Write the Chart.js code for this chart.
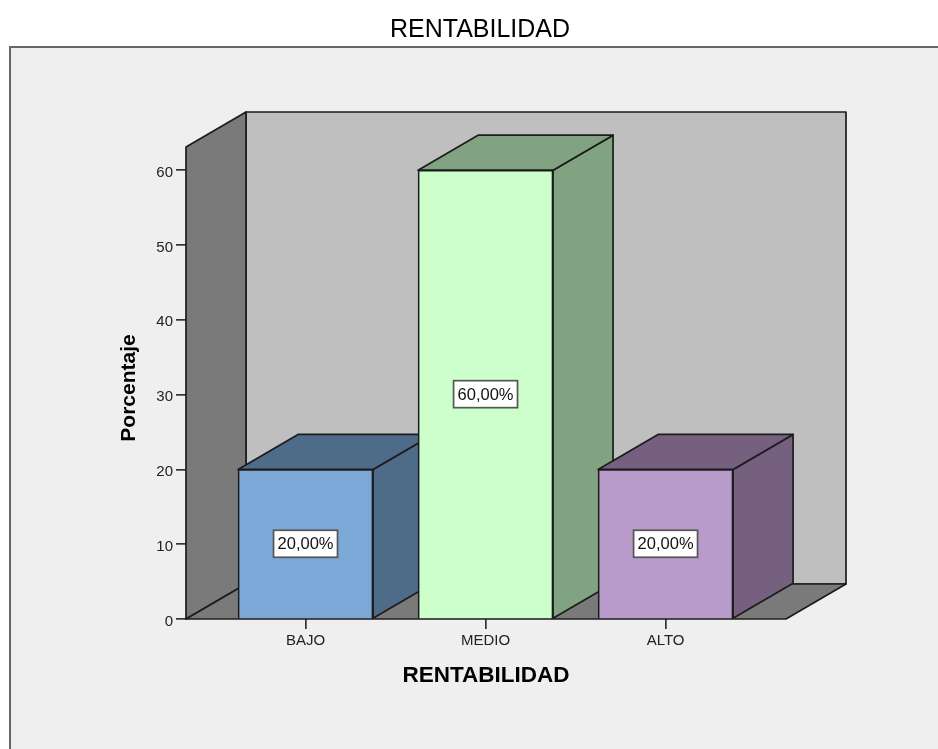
<!DOCTYPE html>
<html>
<head>
<meta charset="utf-8">
<title>RENTABILIDAD</title>
<script src="https://cdn.jsdelivr.net/npm/chart.js@4/dist/chart.umd.min.js"></script>
<style>
html, body { margin: 0; padding: 0; background: #fff; overflow: hidden; }
canvas { display: block; }
</style>
</head>
<body>
<canvas id="myChart" width="938" height="749"></canvas>
<script>
const categories = ["BAJO", "MEDIO", "ALTO"];
const porcentaje = [20, 60, 20];
const barLabels = ["20,00%", "60,00%", "20,00%"];
const frontColors = ["#7ba8d6", "#ccffcc", "#b89bca"];
const sideColors = ["#4e6b8a", "#82a382", "#766080"];
const yTicks = [0, 10, 20, 30, 40, 50, 60];

const FONT = "'Liberation Sans', Arial, sans-serif";
const DEPTH_X = 60, DEPTH_Y = 35;
const INK = "#1c1c1c";

function poly(ctx, pts, fill) {
    ctx.beginPath();
    ctx.moveTo(pts[0][0], pts[0][1]);
    for (let i = 1; i < pts.length; i++) ctx.lineTo(pts[i][0], pts[i][1]);
    ctx.closePath();
    ctx.fillStyle = fill;
    ctx.fill();
    ctx.lineWidth = 1.7;
    ctx.strokeStyle = INK;
    ctx.stroke();
}

// panel behind everything, walls and floor of the 3d box
const walls = {
    id: "walls",
    beforeDraw(chart) {
        const ctx = chart.ctx;
        ctx.save();
        ctx.fillStyle = "#efefef";
        ctx.fillRect(10, 47, 928, 702);
        ctx.strokeStyle = "#666";
        ctx.lineWidth = 2;
        ctx.beginPath();
        ctx.moveTo(10, 749);
        ctx.lineTo(10, 47);
        ctx.lineTo(938, 47);
        ctx.stroke();
        ctx.restore();
    },
    beforeDatasetsDraw(chart) {
        const ctx = chart.ctx;
        const a = chart.chartArea;
        const dx = DEPTH_X, dy = DEPTH_Y;
        ctx.save();
        ctx.lineJoin = "round";
        poly(ctx, [[a.left + dx, a.top - dy], [a.right + dx, a.top - dy], [a.right + dx, a.bottom - dy], [a.left + dx, a.bottom - dy]], "#bfbfbf");
        poly(ctx, [[a.left, a.top], [a.left + dx, a.top - dy], [a.left + dx, a.bottom - dy], [a.left, a.bottom]], "#7a7a7a");
        poly(ctx, [[a.left, a.bottom], [a.left + dx, a.bottom - dy], [a.right + dx, a.bottom - dy], [a.right, a.bottom]], "#7a7a7a");
        // side and top of each bar, the fronts are drawn after by the library
        const meta = chart.getDatasetMeta(0);
        meta.data.forEach(function(bar, i) {
            const l = bar.x - bar.width / 2, r = bar.x + bar.width / 2;
            poly(ctx, [[r, bar.y], [r + dx, bar.y - dy], [r + dx, bar.base - dy], [r, bar.base]], sideColors[i]);
            poly(ctx, [[l, bar.y], [l + dx, bar.y - dy], [r + dx, bar.y - dy], [r, bar.y]], sideColors[i]);
        });
        ctx.restore();
    },
    afterDatasetsDraw(chart) {
        const ctx = chart.ctx;
        const a = chart.chartArea;
        const meta = chart.getDatasetMeta(0);
        ctx.save();
        ctx.font = "16.5px " + FONT;
        ctx.textAlign = "center";
        ctx.textBaseline = "middle";
        meta.data.forEach(function(bar, i) {
            const cy = (bar.y + bar.base) / 2;
            const w = ctx.measureText(barLabels[i]).width + 8;
            ctx.fillStyle = "#fff";
            ctx.fillRect(bar.x - w / 2, cy - 13.5, w, 27);
            ctx.strokeStyle = "#555";
            ctx.lineWidth = 1.7;
            ctx.strokeRect(bar.x - w / 2, cy - 13.5, w, 27);
            ctx.fillStyle = "#111";
            ctx.fillText(barLabels[i], bar.x, cy + 1);
        });
        // y title sits a bit under the middle of the axis, the library can't do that
        ctx.translate(129, (a.top + a.bottom) / 2 + 5);
        ctx.rotate(-Math.PI / 2);
        ctx.font = "bold 21px " + FONT;
        ctx.fillStyle = "#000";
        ctx.fillText("Porcentaje", 0, 0);
        ctx.restore();
    }
};

new Chart(document.getElementById("myChart"), {
    type: "bar",
    data: {
        datasets: [{
            data: porcentaje.map(function(v, i) { return { x: i, y: v }; }),
            backgroundColor: frontColors,
            borderColor: INK,
            borderWidth: 1.7,
            barThickness: 135
        }]
    },
    options: {
        responsive: false,
        animation: false,
        layout: { padding: { left: 22, right: 0, top: 0, bottom: 0 } },
        plugins: {
            legend: { display: false },
            tooltip: { enabled: false },
            title: {
                display: true,
                text: "RENTABILIDAD",
                color: "#000",
                font: { family: FONT, size: 25, weight: "normal", lineHeight: 1.2 },
                padding: { top: 15, bottom: 102 }
            }
        },
        scales: {
            x: {
                type: "linear",
                offset: false,
                min: -0.664,
                max: 2.669,
                afterBuildTicks(axis) { axis.ticks = [{ value: 0 }, { value: 1 }, { value: 2 }]; },
                afterFit(axis) { axis.height = 130; },
                grid: { display: true, offset: false, drawOnChartArea: false, drawTicks: true, tickLength: 10, color: "#333", lineWidth: 1.7 },
                border: { display: false },
                ticks: {
                    color: "#222",
                    padding: 3,
                    maxRotation: 0,
                    font: { family: FONT, size: 15 },
                    callback(v) { return categories[v]; }
                },
                title: {
                    display: true,
                    text: "RENTABILIDAD",
                    color: "#000",
                    font: { family: FONT, size: 22.5, weight: "bold" },
                    padding: { top: 10, bottom: 60 }
                }
            },
            y: {
                min: 0,
                max: 63.1,
                afterBuildTicks(axis) { axis.ticks = yTicks.map(function(v) { return { value: v }; }); },
                afterFit(axis) { axis.width = 164; },
                grid: { display: true, drawOnChartArea: false, drawTicks: true, tickLength: 10, color: "#333", lineWidth: 1.7 },
                border: { display: false },
                ticks: {
                    color: "#222",
                    padding: 3,
                    labelOffset: 2.5,
                    font: { family: FONT, size: 15 }
                }
            },
            // empty axis that only keeps room on the right of the box
            spare: {
                position: "right",
                display: true,
                afterFit(axis) { axis.width = 152; },
                grid: { display: false },
                border: { display: false },
                ticks: { display: false }
            }
        }
    },
    plugins: [walls]
});
</script>
</body>
</html>
